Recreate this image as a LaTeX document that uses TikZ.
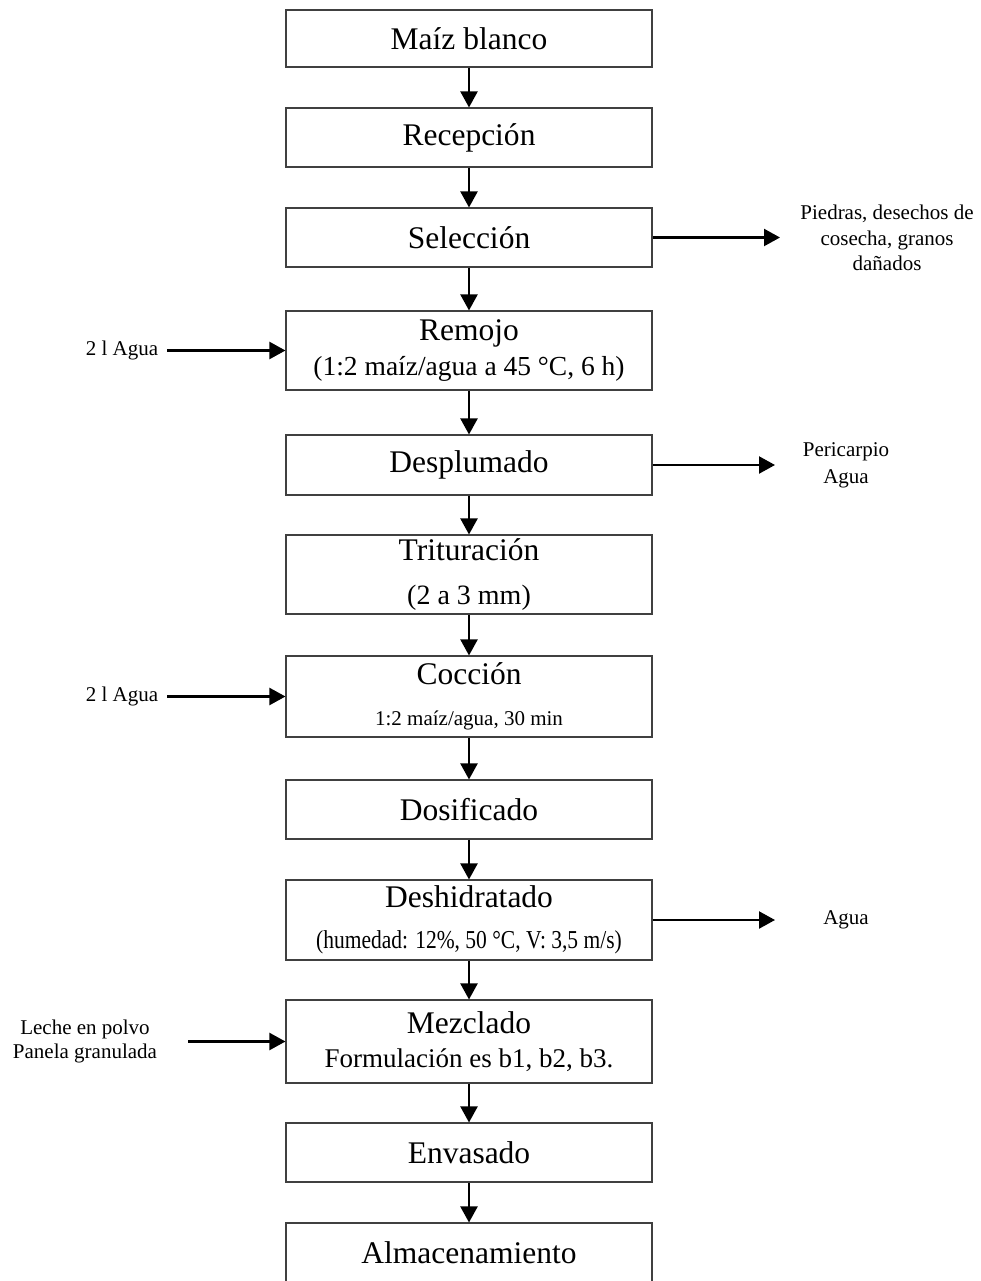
\documentclass[tikz,border=0pt]{standalone}
\usepackage{fontspec}
\usepackage{graphicx}
\setmainfont{Liberation Serif}
\usetikzlibrary{arrows.meta}
\begin{document}
\begin{tikzpicture}[x=1pt,y=-1pt,
  box/.style={draw=black!75, line width=1.1pt, minimum width=366pt, inner sep=0pt, align=center,
    font=\fontsize{31.5}{38}\selectfont},
  arr/.style={line width=2.2pt, -{Triangle[length=16pt,width=17pt]}},
  side/.style={align=center, inner sep=0pt, font=\fontsize{21}{26}\selectfont}]
\useasboundingbox (0,0) rectangle (981,1281);

\node[box, minimum height=57pt] (maiz) at (469,38.5) {Maíz blanco};
\node[box, minimum height=59pt] (recep) at (469,137.5) {Recepción};
\node[box, minimum height=59pt] (selec) at (469,237.5) {Selección};
\node[box, minimum height=79pt, font={\fontsize{31.5}{35.6}\selectfont\lineskiplimit=-100pt}] (remojo) at (469,350.5)
  {Remojo\\{\fontsize{27.5}{30}\selectfont (1:2 maíz/agua a 45 °C, 6 h)}};
\node[box, minimum height=60pt] (despl) at (469,465) {Desplumado};
\node[box, minimum height=79pt, font={\fontsize{31.5}{43.7}\selectfont\lineskiplimit=-100pt}] (trit) at (469,574.5)
  {Trituración\\{\fontsize{28}{30}\selectfont (2 a 3 mm)}};
\node[box, minimum height=81pt, font={\fontsize{31.5}{40.5}\selectfont\lineskiplimit=-100pt}] (cocc) at (469,696.5)
  {Cocción\\{\fontsize{21}{24}\selectfont 1:2 maíz/agua, 30 min}};
\node[box, minimum height=59pt] (dosif) at (469,809.5) {Dosificado};
\node[box, minimum height=80pt, font={\fontsize{31.5}{40.6}\selectfont\lineskiplimit=-100pt}] (deshi) at (469,920)
  {Deshidratado\\\scalebox{1}[1.2]{\fontsize{21.5}{24}\selectfont (humedad: 12\%, 50 °C, V: 3,5 m/s)}};
\node[box, minimum height=83pt, font={\fontsize{31.5}{34.5}\selectfont\lineskiplimit=-100pt}] (mezcl) at (469,1041.5)
  {Mezclado\\{\fontsize{27}{30}\selectfont Formulación es b1, b2, b3.}};
\node[box, minimum height=59pt] (envas) at (469,1152.5) {Envasado};
\node[box, minimum height=59pt] (almac) at (469,1252.5) {Almacenamiento};

\draw[arr] (maiz.south) -- (recep.north);
\draw[arr] (recep.south) -- (selec.north);
\draw[arr] (selec.south) -- (remojo.north);
\draw[arr] (remojo.south) -- (despl.north);
\draw[arr] (despl.south) -- (trit.north);
\draw[arr] (trit.south) -- (cocc.north);
\draw[arr] (cocc.south) -- (dosif.north);
\draw[arr] (dosif.south) -- (deshi.north);
\draw[arr] (deshi.south) -- (mezcl.north);
\draw[arr] (mezcl.south) -- (envas.north);
\draw[arr] (envas.south) -- (almac.north);

% side outputs
\node[side, font=\fontsize{21}{25.5}\selectfont] (piedras) at (887,238) {Piedras, desechos de\\cosecha, granos\\dañados};
\coordinate (selE) at (780,237.5);
\draw[arr] (selec.east) -- (selE);

\node[side, font=\fontsize{21}{27}\selectfont] (peric) at (846,465) {Pericarpio\\Agua};
\coordinate (desE) at (775,465);
\draw[arr] (despl.east) -- (desE);

\node[side] (agua3) at (846,920) {Agua};
\coordinate (dehE) at (775,920);
\draw[arr] (deshi.east) -- (dehE);

% side inputs
\node[side] (agua1) at (122,350.5) {2 l Agua};
\coordinate (remW) at (167,350.5);
\draw[arr] (remW) -- (remojo.west);

\node[side] (agua2) at (122,696.5) {2 l Agua};
\coordinate (cocW) at (167,696.5);
\draw[arr] (cocW) -- (cocc.west);

\node[side, font=\fontsize{21}{24}\selectfont] (leche) at (85,1041.5) {Leche en polvo\\Panela granulada};
\coordinate (mezW) at (188,1041.5);
\draw[arr] (mezW) -- (mezcl.west);
\end{tikzpicture}
\end{document}
